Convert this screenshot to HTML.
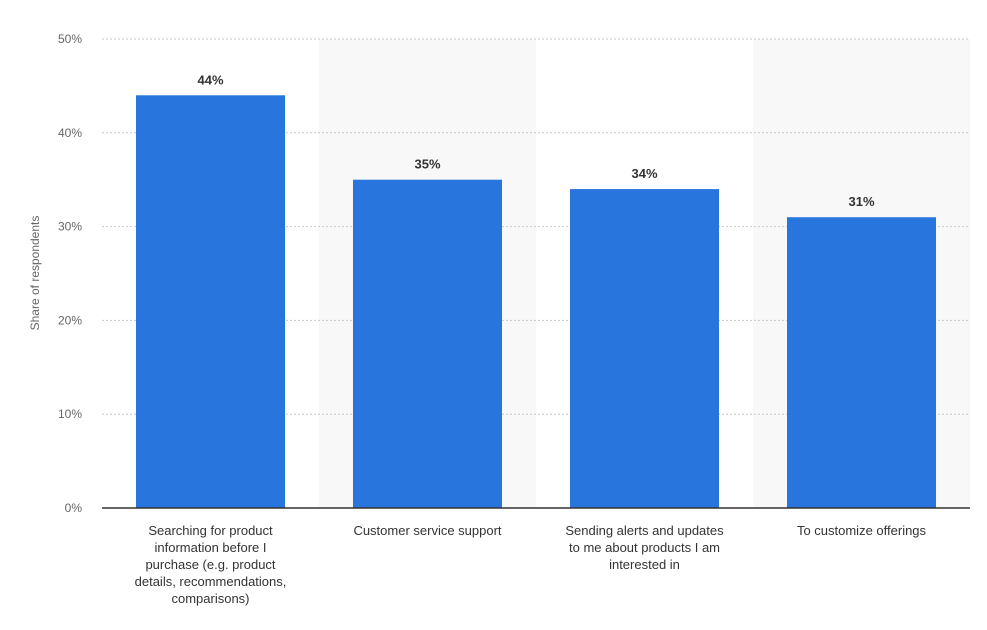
<!DOCTYPE html>
<html><head><meta charset="utf-8"><style>
body{margin:0;background:#fff;font-family:"Liberation Sans",sans-serif;}
svg text{font-family:"Liberation Sans",sans-serif;}
</style></head><body>
<svg id="chart" width="987" height="625" xmlns="http://www.w3.org/2000/svg"></svg>
<script>
const categories=[["Searching for product","information before I","purchase (e.g. product","details, recommendations,","comparisons)"],["Customer service support"],["Sending alerts and updates","to me about products I am","interested in"],["To customize offerings"]];
const values=[44,35,34,31];
const yTicks=[0,10,20,30,40,50];
const yTickLabels=["0%","10%","20%","30%","40%","50%"];
const NS="http://www.w3.org/2000/svg";
const svg=document.getElementById('chart');
const L=102,R=970,T=39,B=508,yMax=50;
const bw=(R-L)/categories.length;
const y=v=>B-(v/yMax)*(B-T);
const x=i=>L+i*bw;
function mk(t,a,p){const e=document.createElementNS(NS,t);for(const k in a)e.setAttribute(k,a[k]);(p||svg).appendChild(e);return e;}
categories.forEach((c,i)=>{if(i%2===1){const r=mk('rect',{x:x(i),y:T,width:bw,height:B-T,fill:'#f8f8f8'});

}});
yTicks.forEach((t,i)=>{
 if(t>0){const g=mk('line',{x1:L,x2:R,y1:y(t),y2:y(t),stroke:'#c8c8c8','stroke-dasharray':'2,2'});
 
 }
 const tx=mk('text',{x:82,y:y(t)+4,'text-anchor':'end','font-size':12,fill:'#666'});tx.textContent=yTickLabels[i];
 
 
});
const yt=mk('text',{x:0,y:0,transform:'translate(39,273) rotate(-90)','text-anchor':'middle','font-size':12,fill:'#666'});yt.textContent='Share of respondents';


values.forEach((v,i)=>{
 const bx=x(i)+34,w=bw-68;
 const r=mk('rect',{x:bx,y:y(v),width:w,height:B-y(v),fill:'#2876dd'});
 
 
 const lb=mk('text',{x:bx+w/2,y:y(v)-11,'text-anchor':'middle','font-size':13,'font-weight':'bold',fill:'#333'});lb.textContent=v+'%';
 
 
 const ct=mk('text',{x:x(i)+bw/2,y:535,'text-anchor':'middle','font-size':13,fill:'#333'});
 
 
 categories[i].forEach((ln,j)=>{const s=mk('tspan',{x:x(i)+bw/2,dy:j?17:0},ct);s.textContent=ln;});
});
const ax=mk('line',{x1:L,x2:R,y1:B,y2:B,stroke:'#333','stroke-width':1.5});


</script>
</body></html>
